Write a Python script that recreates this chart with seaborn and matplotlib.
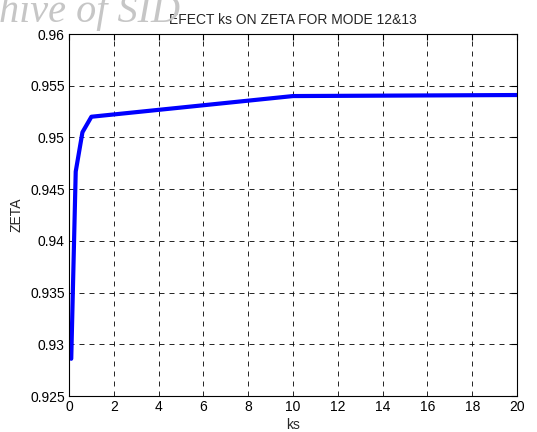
import matplotlib
matplotlib.use("Agg")
import matplotlib.pyplot as plt
import seaborn as sns
import pandas as pd

ks = [0.1, 0.3, 0.6, 1.0, 10.0, 20.0]
zeta = [0.9286, 0.9467, 0.9505, 0.9520, 0.9540, 0.9541]
xticks = list(range(0, 21, 2))
yticks = [0.925, 0.93, 0.935, 0.94, 0.945, 0.95, 0.955, 0.96]

sns.set_style("white")
plt.rcParams['font.family'] = ['Liberation Sans', 'DejaVu Sans']

df = pd.DataFrame({"ks": ks, "ZETA": zeta})
fig = plt.figure(figsize=(5.37, 4.32), dpi=100)
fig.text(-1/537, 1 - 22/432, "hive of SID", fontsize=29, family="Liberation Serif",
         style="italic", color="#c6c6c6", va="baseline", ha="left", zorder=0)
ax = fig.add_axes([69/537, 36/432, 448/537, 362/432])
sns.lineplot(data=df, x="ks", y="ZETA", ax=ax, color="#0000ff", linewidth=3, sort=False)
ax.set_xlim(0, 20)
ax.set_ylim(0.925, 0.96)
ax.set_xticks(xticks)
ax.set_xticklabels([str(t) for t in xticks])
ax.set_yticks(yticks)
ax.set_yticklabels([f"{t:g}" for t in yticks])
ax.grid(True, color="black", linestyle=(0, (6, 6)), linewidth=0.6)
ax.tick_params(direction="in", length=4, labelsize=10, colors="black", top=True, right=True, pad=3)
for s in ax.spines.values():
    s.set_color("black")
    s.set_linewidth(0.8)
ax.set_xlabel("ks", fontsize=10, labelpad=3)
ax.set_ylabel("ZETA", fontsize=10, labelpad=5)
ax.set_title("EFECT ks ON ZETA FOR MODE 12&13", fontsize=10, pad=7)
fig.savefig("out.png", dpi=100)
